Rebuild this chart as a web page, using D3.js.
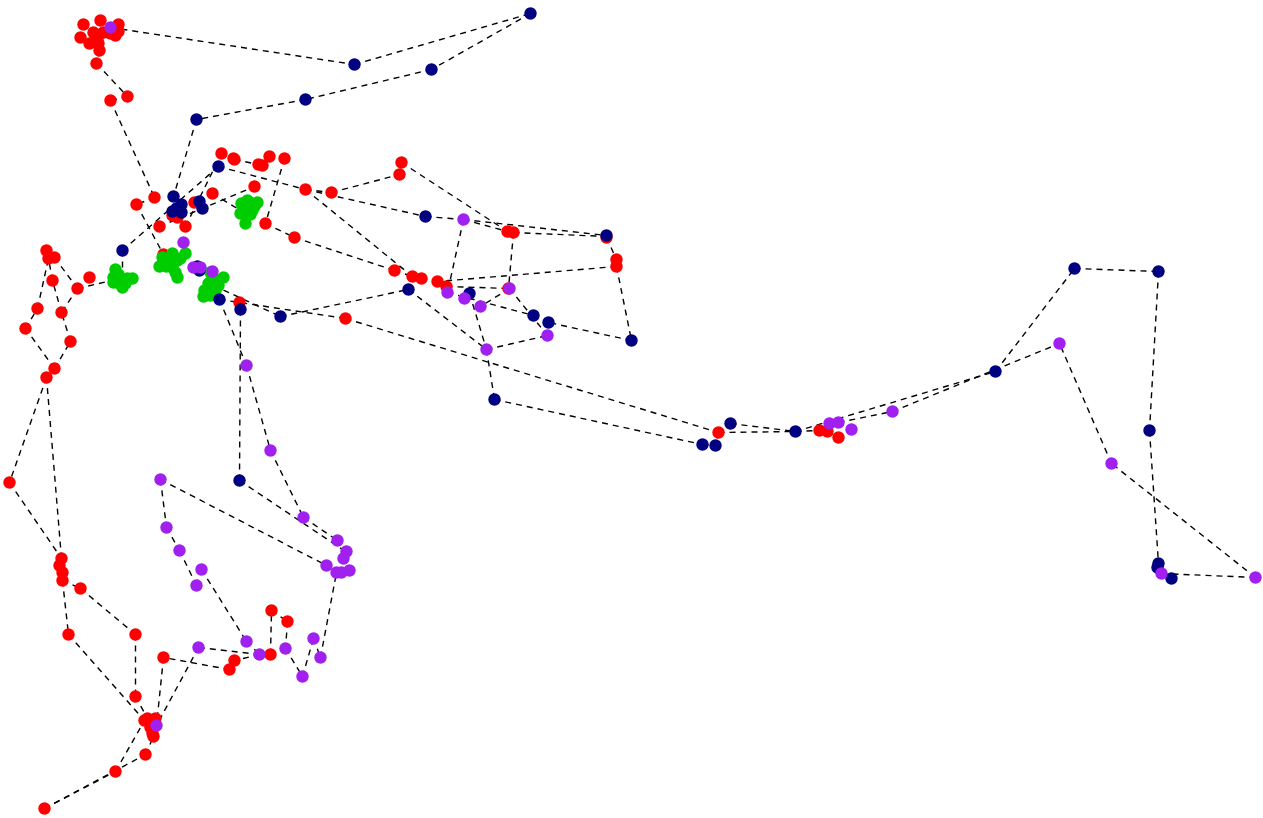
<!DOCTYPE html>
<html lang="en">
  <head>
    <meta charset="UTF-8" />
    <title>Network</title>
    <style>
      html, body { margin: 0; padding: 0; background: #fff; }
      svg { display: block; }
      .edge { fill: none; stroke: #000; stroke-width: 1.4px; stroke-dasharray: 6,5; }
    </style>
  </head>
  <body>
    <script src="https://cdn.jsdelivr.net/npm/d3@7"></script>
    <script>

      // node positions, in layout units
      var redNodes = [
        [83,24],[100,20],[118,24],[80,37],[89,43],[93,32],[103,32],[97,38],[98,43],[99,50],[96,63],
        [115,35],[118,31],[110,33],[110,100],[127,96],
        [154,197],[136,204],[159,226],[185,226],[177,217],[172,215],[194,202],[212,193],[254,186],
        [221,153],[234,159],[233,158],[258,164],[262,165],[269,156],[284,158],[265,223],[294,237],
        [305,189],[331,192],[399,174],[401,162],[163,254],[239,302],[345,318],
        [394,270],[412,276],[421,278],[437,281],[446,286],[507,231],[513,232],[606,237],[616,259],[616,266],[508,288],
        [46,250],[48,258],[54,257],[52,280],[89,277],[77,288],[37,308],[61,312],[25,328],[70,341],[54,368],[46,377],[9,482],
        [61,558],[59,565],[62,572],[62,580],[80,588],[68,634],[135,634],[135,696],
        [144,720],[147,718],[155,718],[150,727],[152,733],[153,736],[145,754],[115,771],[44,808],
        [163,657],[229,669],[234,660],[270,654],[271,610],[287,621],
        [718,432],[819,430],[827,431],[838,437]
      ];
      var greenNodes = [
        [115,269],[113,277],[118,274],[122,279],[127,278],[132,278],[122,287],[119,283],[116,278],[125,283],[113,282],
        [162,257],[172,253],[185,253],[159,266],[177,277],[170,262],[177,260],[165,262],[172,267],[175,272],[168,258],[180,258],[166,266],[174,258],[172,262],
        [203,296],[223,277],[210,272],[213,285],[210,295],[217,280],[208,290],[212,290],[215,283],[205,295],[208,283],[218,285],[204,290],[215,290],[212,278],
        [247,200],[257,202],[245,223],[240,213],[241,203],[252,210],[245,213],[248,206],[244,208],[251,203],[250,214],[254,206]
      ];
      var navyNodes = [
        [530,13],[354,64],[431,69],[305,99],[196,119],[218,166],[173,196],[181,204],[172,211],[176,208],[181,212],[199,201],[202,208],
        [122,250],[197,266],[199,270],[219,299],[240,309],[280,316],[239,480],
        [425,216],[606,235],[408,289],[469,293],[533,315],[548,322],[631,340],[494,399],
        [702,444],[715,445],[730,423],[795,431],[995,371],[1074,268],[1158,271],[1149,430],[1158,563],[1157,567],[1171,578]
      ];
      var purpleNodes = [
        [110,27],[183,242],[193,267],[200,267],[212,271],[246,365],[270,450],[303,517],
        [160,479],[166,527],[179,550],[196,585],[201,569],[337,540],[346,551],[343,558],[326,565],[336,572],[341,572],[349,570],
        [246,641],[259,654],[198,647],[156,725],[285,648],[302,676],[313,638],[320,657],
        [463,219],[447,292],[464,298],[480,306],[509,288],[547,335],[486,349],
        [829,423],[838,422],[851,429],[892,411],[1059,343],[1111,463],[1255,577],[1161,573]
      ];

      // drawn back to front
      var groupNames = ["red", "green", "navy", "purple"];
      var groupNodes = [redNodes, greenNodes, navyNodes, purpleNodes];
      var groupColors = ["#ff0000", "#00cd00", "#000080", "#a020f0"];

      // x1, y1, x2, y2 of each link
      var edges = [
        [110,27,354,64],[354,64,530,13],[530,13,431,69],[431,69,305,99],[305,99,196,119],[196,119,173,196],
        [83,24,93,32],[80,37,93,42],[89,43,99,50],[99,50,96,63],[96,63,127,96],[127,96,110,100],[110,100,154,197],[154,197,136,204],[136,204,163,254],
        [122,250,218,166],[122,250,122,280],[159,226,254,186],[185,226,221,153],[254,186,247,200],
        [234,159,258,164],[269,156,262,165],[284,158,265,223],[265,223,294,237],[294,237,394,270],
        [212,193,245,213],[218,166,305,189],[305,189,331,192],[331,192,399,174],[399,174,401,162],[401,162,507,231],
        [305,189,412,276],[305,189,425,216],[425,216,463,219],[463,219,507,231],[463,219,606,235],[463,219,447,292],
        [507,231,513,232],[513,232,606,236],[513,232,508,288],[446,286,508,288],[606,237,616,259],[616,259,616,266],[616,266,631,340],[631,340,548,322],
        [616,266,437,281],[394,270,412,276],[412,276,421,278],[421,278,437,281],[437,281,446,286],[447,292,533,315],[533,315,548,322],
        [509,288,547,335],[509,288,480,306],[486,349,547,335],[408,289,486,349],[280,316,408,289],[469,293,486,349],[486,349,494,399],[494,399,702,444],
        [345,318,718,432],[219,299,345,318],[213,285,280,316],[240,309,239,480],[219,299,246,365],[246,365,270,450],[270,450,303,517],
        [239,480,345,551],[303,517,337,540],[337,540,346,551],[346,551,343,558],[343,558,349,570],
        [160,479,326,565],[160,479,166,527],[166,527,179,550],[179,550,196,585],[196,585,201,569],[201,569,246,641],[246,641,259,654],
        [259,654,198,647],[259,654,234,660],[234,660,229,669],[229,669,163,657],[163,657,156,725],[198,647,156,725],[259,654,270,654],
        [270,654,271,610],[271,610,287,621],[287,621,285,648],[285,648,302,676],[302,676,313,638],[313,638,320,657],[320,657,336,572],
        [135,634,135,696],[135,696,147,718],[80,588,135,634],[62,580,80,588],[62,580,68,634],[68,634,144,720],[61,558,46,377],[9,482,61,558],[46,377,9,482],
        [46,377,54,368],[54,368,70,341],[70,341,61,312],[61,312,52,280],[52,280,48,258],[54,368,25,328],[25,328,37,308],[37,308,48,258],
        [54,257,77,288],[77,288,61,312],[77,288,120,278],[89,277,77,288],
        [44,808,115,771],[44,808,145,754],[115,771,144,720],[145,754,153,736],
        [718,432,730,423],[718,432,715,445],[702,444,715,445],[730,423,795,431],[718,432,795,431],[795,431,995,371],[795,431,819,430],
        [819,430,827,431],[827,431,838,437],[838,422,851,429],[838,422,892,411],[892,411,1059,343],[995,371,1074,268],[1074,268,1158,271],[1158,271,1149,430],[1149,430,1158,563],
        [1161,573,1255,577],[1255,577,1111,463],[1111,463,1059,343],[1158,563,1157,567],[1157,567,1171,578]
      ];

      var w = 1263,
          h = 818;

      var svg = d3.select("body").append("svg")
        .attr("width", w)
        .attr("height", h);

      // half a pixel over: the picture's readings are pixel rows, not edges
      var xScale = d3.scaleLinear().domain([0, w]).range([0.5, w + 0.5]);
      var yScale = d3.scaleLinear().domain([0, h]).range([0.5, h + 0.5]);

      svg.append("g")
        .selectAll("line")
        .data(edges)
        .enter()
        .append("line")
        .attr("class", "edge")
        .attr("x1", function(d) { return xScale(d[0]); })
        .attr("y1", function(d) { return yScale(d[1]); })
        .attr("x2", function(d) { return xScale(d[2]); })
        .attr("y2", function(d) { return yScale(d[3]); });

      groupNames.forEach(function(name, i) {
        svg.append("g")
          .attr("class", name)
          .selectAll("circle")
          .data(groupNodes[i])
          .enter()
          .append("circle")
          .attr("cx", function(d) { return xScale(d[0]); })
          .attr("cy", function(d) { return yScale(d[1]); })
          .attr("r", 6.2)
          .attr("fill", groupColors[i]);
      });

    </script>
  </body>
</html>
